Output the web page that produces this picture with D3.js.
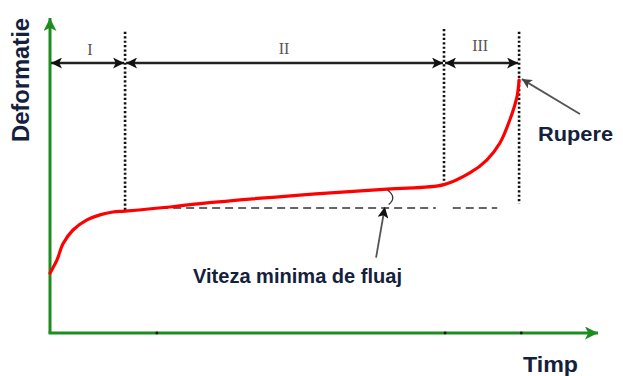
<!DOCTYPE html>
<html><head><meta charset="utf-8">
<script src="https://cdn.jsdelivr.net/npm/d3@7"></script>
<style>body{margin:0;background:#fff}svg{display:block}</style>
</head><body>
<svg id="c" width="623" height="376"></svg>
<script>
// ---- data (time units, deformation units) ----
const curveT = [0, 1.28, 2.37, 4.2, 6.75, 9.12, 11.5, 13.7, 21.9, 27.4, 45.6, 61.5, 71.9, 76.6, 79.7, 82.1, 83.9, 85.2, 85.6];
const curveE = [19.0, 23.2, 28.3, 32.7, 35.9, 37.5, 38.4, 38.7, 40.0, 41.1, 43.8, 45.7, 47.1, 50.8, 54.9, 60.3, 67.6, 74.9, 80.3];
const phaseBounds = [0, 13.7, 71.9, 85.6];
const phaseLabels = ["I", "II", "III"];
const dottedTop = [95.6, 96.5, 95.6];
const dottedBottom = [38.7, 47.1, 41.0];
const tickT = [19.5, 72.1, 86.0];
const minRateLevel = 39.7;
const minRateSegments = [[20.1, 70.4], [73.5, 81.6]];
const axisLabels = ["Timp", "Deformatie"];
const noteLabels = ["Viteza minima de fluaj", "Rupere"];

const svg = d3.select("#c");
const x = d3.scaleLinear().domain([0, 100]).range([50, 598]);
const y = d3.scaleLinear().domain([0, 100]).range([333, 18]);

const defs = svg.append("defs");
function marker(id, color, w, h, orient) {
  defs.append("marker").attr("id", id).attr("viewBox", "0 0 10 10")
    .attr("refX", 10).attr("refY", 5).attr("markerWidth", w).attr("markerHeight", h)
    .attr("markerUnits", "userSpaceOnUse").attr("orient", orient)
    .append("path").attr("d", "M0,0 L10,5 L0,10 L2.5,5 Z").attr("fill", color);
}
marker("ga", "#1e8c1e", 14, 13, "auto");
marker("ba", "#111", 13, 11, "auto-start-reverse");
marker("ka", "#111", 11, 11, "auto");
marker("gr", "#444", 11, 10, "auto");

const green = "#1e8c1e";
// axes
svg.append("line").attr("x1", x(0)).attr("y1", y(0)).attr("x2", x(0)).attr("y2", y(100))
  .attr("stroke", green).attr("stroke-width", 3).attr("marker-end", "url(#ga)");
svg.append("line").attr("x1", x(0) - 1.5).attr("y1", y(0)).attr("x2", x(100)).attr("y2", y(0))
  .attr("stroke", green).attr("stroke-width", 3).attr("marker-end", "url(#ga)");
svg.selectAll(".tk").data(tickT).join("circle").attr("cx", d => x(d)).attr("cy", y(0))
  .attr("r", 1.4).attr("fill", "#111");

// dotted phase boundaries
svg.selectAll(".dl").data(phaseBounds.slice(1)).join("line")
  .attr("x1", d => x(d)).attr("x2", d => x(d))
  .attr("y1", (d, i) => y(dottedTop[i])).attr("y2", (d, i) => y(dottedBottom[i]))
  .attr("stroke", "#111").attr("stroke-width", 2.6).attr("stroke-dasharray", "2.2,2.2");

// phase arrows
const arrowE = 85.7;
phaseLabels.forEach((lab, i) => {
  const a = phaseBounds[i], b = phaseBounds[i + 1];
  svg.append("line").attr("x1", x(a) + 1).attr("x2", x(b) - 1).attr("y1", y(arrowE)).attr("y2", y(arrowE))
    .attr("stroke", "#222").attr("stroke-width", 2.6)
    .attr("marker-start", "url(#ba)").attr("marker-end", "url(#ba)");
});
const labT = [7.3, 42.7, 78.5];
const labE = [88.3, 88.6, 89.6];
svg.selectAll(".pl").data(phaseLabels).join("text")
  .attr("x", (d, i) => x(labT[i])).attr("y", (d, i) => y(labE[i]))
  .attr("text-anchor", "middle").attr("font-family", "Liberation Serif").attr("font-size", 16)
  .attr("fill", "#555").text(d => d);

// minimum creep rate reference line
svg.selectAll(".mr").data(minRateSegments).join("line")
  .attr("x1", d => x(d[0])).attr("x2", d => x(d[1])).attr("y1", y(minRateLevel)).attr("y2", y(minRateLevel))
  .attr("stroke", "#333").attr("stroke-width", 1.4).attr("stroke-dasharray", "8,5");

// creep curve
const pts = curveT.map((t, i) => [t, curveE[i]]);
svg.append("path").datum(pts)
  .attr("d", d3.line().x(d => x(d[0])).y(d => y(d[1])).curve(d3.curveCatmullRom.alpha(0.5)))
  .attr("fill", "none").attr("stroke", "#ff0000").attr("stroke-width", 3.2).attr("stroke-linecap", "round");

// angle arc
const arcP = d3.path();
arcP.moveTo(x(61.6), y(45.4));
arcP.quadraticCurveTo(x(63.4), y(43.0), x(61.8), y(40.8));
svg.append("path").attr("d", arcP.toString()).attr("fill", "none").attr("stroke", "#333").attr("stroke-width", 1.3);

// annotation arrows
svg.append("line").attr("x1", x(59.5)).attr("y1", y(23.9)).attr("x2", x(61.1)).attr("y2", y(40.0))
  .attr("stroke", "#555").attr("stroke-width", 1.8).attr("marker-end", "url(#ka)");
svg.append("line").attr("x1", x(96.7)).attr("y1", y(69.5)).attr("x2", x(86.1)).attr("y2", y(80.6))
  .attr("stroke", "#555").attr("stroke-width", 1.8).attr("marker-end", "url(#gr)");

// texts
const txtColor = "#14213d";
function txt(s, px, py, size, len, rot) {
  const t = svg.append("text").attr("font-family", "Liberation Sans").attr("font-weight", "bold")
    .attr("font-size", size).attr("fill", txtColor).attr("textLength", len).attr("lengthAdjust", "spacingAndGlyphs").text(s);
  if (rot) t.attr("transform", `translate(${px},${py}) rotate(-90)`).attr("x", 0).attr("y", 0);
  else t.attr("x", px).attr("y", py);
  return t;
}
txt(noteLabels[0], 193, 283, 20, 209);
txt(noteLabels[1], 538, 141, 21, 75);
txt(axisLabels[0], 523, 372, 22, 55);
txt(axisLabels[1], 29, 142, 23, 124, true);
</script>
</body></html>
